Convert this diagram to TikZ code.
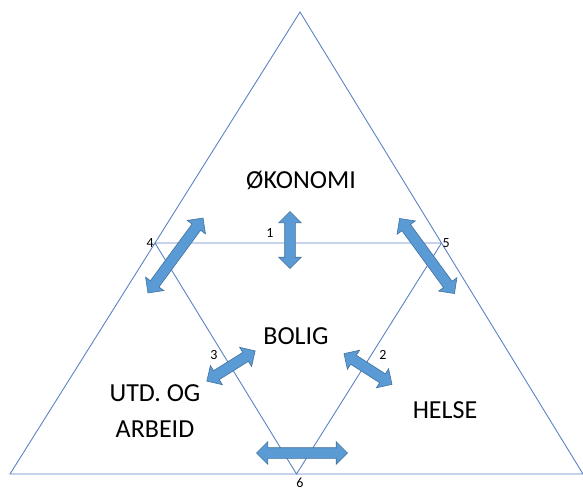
\documentclass[tikz,border=0pt]{standalone}
\usepackage{fontspec}
\setmainfont{Carlito}
\usetikzlibrary{shapes.arrows,calc}

\definecolor{edgeblue}{RGB}{95,130,195}
\definecolor{arrowfill}{RGB}{91,155,213}
\definecolor{arrowline}{RGB}{65,113,156}

\tikzset{
  edge/.style={draw=edgeblue,line width=0.9pt},
  field/.style={font=\fontsize{26}{36}\selectfont,align=center},
  num/.style={font=\fontsize{14}{16}\selectfont,inner sep=1pt},
  link/.style={double arrow,fill=arrowfill,draw=arrowline,line width=0.6pt,
    inner xsep=0pt,inner ysep=5pt,double arrow head extend=6pt,
    double arrow tip angle=90,minimum height=#1},
  link/.default=57pt
}

\begin{document}
\begin{tikzpicture}[x=1pt,y=-1pt]
        \useasboundingbox (0,0) rectangle (583,491);

        % outer triangle
        \coordinate (top) at (300,12);
        \coordinate (bl) at (10,474);
        \coordinate (br) at (583,474);
        \draw[edge] (top) -- (bl) -- (br) -- cycle;

        % inner triangle
        \coordinate (m4) at ($(top)!0.5!(bl)$);
        \coordinate (m5) at ($(top)!0.5!(br)$);
        \coordinate (m6) at ($(bl)!0.5!(br)$);
        \draw[edge] (m4) -- (m5) -- (m6) -- cycle;

        % fields
        \node[field] (okonomi) at (301,180) {ØKONOMI};
        \node[field] (bolig) at (296,336) {BOLIG};
        \node[field] (utd) at (155,411) {UTD. OG\\ARBEID};
        \node[field] (helse) at (445,410) {HELSE};

        % numbers
        \node[num,left] (n4) at (m4) {4};
        \node[num,right] (n5) at (m5) {5};
        \node[num] (n6) at (300,482.5) {6};
        \node[num] (n1) at (270,233) {1};
        \node[num] (n2) at (383,355) {2};
        \node[num] (n3) at (214,355) {3};

        % double arrows
        \node[link,rotate=90] (a1) at (290,240) {};
        \node[link,rotate=-32.6] (a2) at (368,369) {};
        \node[link,rotate=32] (a3) at (231,366) {};
        \node[link=93pt,rotate=53.7] (a4) at (175.5,255.5) {};
        \node[link=93pt,rotate=-53.8] (a5) at (427,256) {};
        \node[link=91pt] (a6) at (302,453) {};
    \end{tikzpicture}
\end{document}
